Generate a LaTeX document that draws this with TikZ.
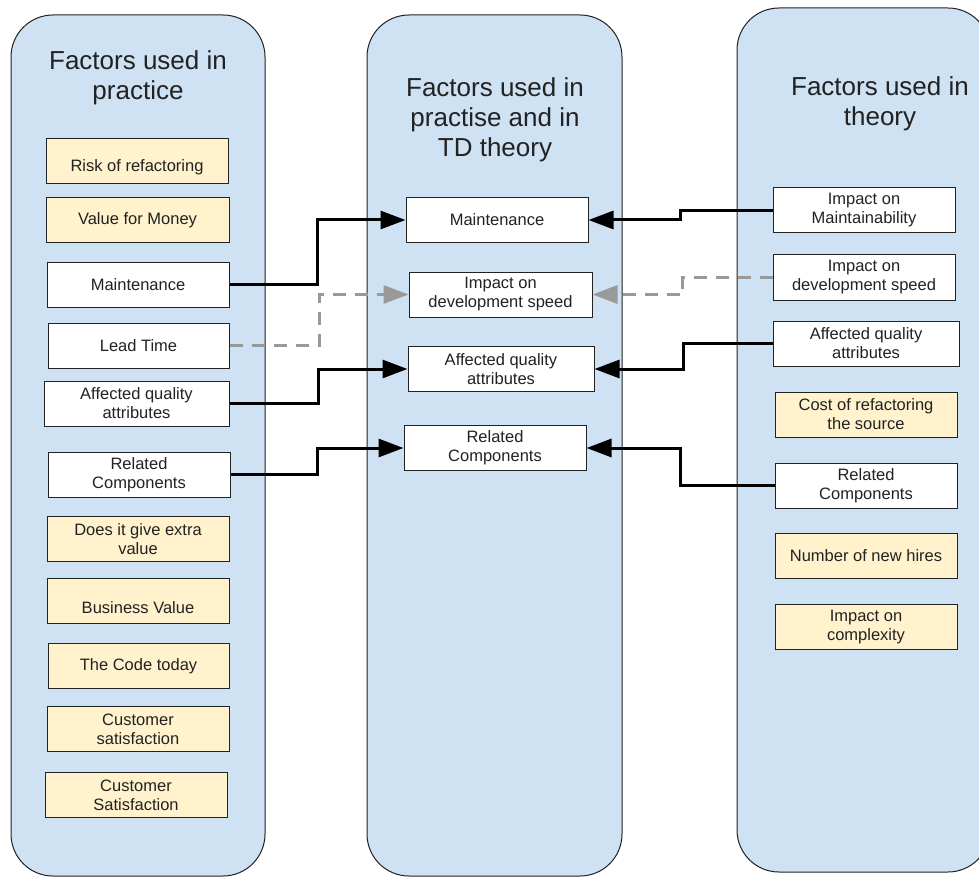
\documentclass[tikz,border=0pt]{standalone}
\usepackage{fontspec}
\setmainfont{Liberation Sans}
\usetikzlibrary{arrows.meta,calc}
\definecolor{colblue}{HTML}{CFE2F3}
\definecolor{noteyellow}{HTML}{FFF2CC}
\definecolor{linkgray}{HTML}{999999}
\definecolor{ink}{HTML}{222222}

\begin{document}
\begin{tikzpicture}[x=1pt,y=-1pt,
  column/.style={draw=ink, line width=1pt, fill=colblue, rounded corners=42pt},
  coltitle/.style={font=\fontsize{26}{30}\selectfont, align=center, text=ink},
  factor/.style={draw=ink, line width=1pt, minimum height=45pt, inner sep=0pt,
    align=center, font=\fontsize{16.5}{19}\selectfont, text=ink},
  shared/.style={factor, fill=white},
  own/.style={factor, fill=noteyellow},
  boxtext/.style={font=\fontsize{16.5}{19}\selectfont, text=ink, inner sep=0pt},
  link/.style={line width=3pt, draw=black, -{Triangle[length=25pt,width=18pt]}},
  weaklink/.style={line width=3pt, draw=linkgray, dash pattern=on 13pt off 9pt,
    -{Triangle[length=25pt,width=18pt,fill=linkgray]}},
]
\useasboundingbox (0,0) rectangle (979,877);
\clip (0,0) rectangle (979,877);

% the three columns
\draw[column] (11,15) rectangle (265,876);
\draw[column] (367,15) rectangle (622,876);
\draw[column] (737,8) rectangle (990,872);

\node[coltitle] (tPractice) at (138,78) {Factors used in\\practice};
\node[coltitle] (tBoth) at (495,120) {Factors used in\\practise and in\\TD theory};
\node[coltitle] (tTheory) at (880,104) {Factors used in\\theory};

% factors used in practice
\node[own, minimum width=182pt] (lRisk) at (137,161.5) {};
\node[boxtext] (lRiskT) at ($(lRisk.center)+(0,5.5)$) {Risk of refactoring};
\node[own, minimum width=183pt] (lValue) at (137.5,220.5) {Value for Money};
\node[shared, minimum width=182pt] (lMaint) at (138,284.5) {Maintenance};
\node[shared, minimum width=181pt] (lLead) at (138.5,345.5) {Lead Time};
\node[shared, minimum width=185pt] (lQual) at (136.5,403.5) {Affected quality\\attributes};
\node[shared, minimum width=182pt] (lRel) at (139,474.5) {Related\\Components};
\node[own, minimum width=182pt] (lExtra) at (138,539) {Does it give extra\\value};
\node[own, minimum width=182pt] (lBiz) at (138,600.5) {};
\node[boxtext] (lBizT) at ($(lBiz.center)+(0,7)$) {Business Value};
\node[own, minimum width=181pt] (lCode) at (138.5,666) {The Code today};
\node[own, minimum width=182pt] (lCust) at (138,729) {Customer\\satisfaction};
\node[own, minimum width=182pt] (lCustB) at (136,795) {Customer\\Satisfaction};

% factors used in practise and in TD theory
\node[shared, minimum width=182pt] (mMaint) at (497,220) {Maintenance};
\node[shared, minimum width=183pt] (mSpeed) at (500.5,294.5) {Impact on\\development speed};
\node[shared, minimum width=186pt] (mQual) at (501,369) {Affected quality\\attributes};
\node[shared, minimum width=182pt] (mRel) at (495,448) {Related\\Components};

% factors used in theory
\node[shared, minimum width=182pt] (rMaint) at (864,210.5) {Impact on\\Maintainability};
\node[shared, minimum width=182pt] (rSpeed) at (864,277.5) {Impact on\\development speed};
\node[shared, minimum width=186pt] (rQual) at (866,343.5) {Affected quality\\attributes};
\node[own, minimum width=182pt] (rCost) at (866,414.5) {Cost of refactoring\\the source};
\node[shared, minimum width=182pt] (rRel) at (866,485.5) {Related\\Components};
\node[own, minimum width=182pt] (rHires) at (866,556) {Number of new hires};
\node[own, minimum width=182pt] (rCompl) at (866,627) {Impact on\\complexity};

% links from practice
\draw[link] (lMaint.east) -| ($(lMaint.east)!.5!(mMaint.west)$) |- (mMaint.west);
\draw[weaklink] (lLead.east) -| ($(lLead.east)!.5!(mSpeed.west)$) |- (mSpeed.west);
\draw[link] (lQual.east) -| ($(lQual.east)!.5!(mQual.west)$) |- (mQual.west);
\draw[link] (lRel.east) -| ($(lRel.east)!.5!(mRel.west)$) |- (mRel.west);

% links from theory
\draw[link] (rMaint.west) -| ($(rMaint.west)!.5!(mMaint.east)$) |- (mMaint.east);
\draw[weaklink] (rSpeed.west) -| ($(rSpeed.west)!.5!(mSpeed.east)$) |- (mSpeed.east);
\draw[link] (rQual.west) -| ($(rQual.west)!.5!(mQual.east)$) |- (mQual.east);
\draw[link] (rRel.west) -| ($(rRel.west)!.5!(mRel.east)$) |- (mRel.east);
\end{tikzpicture}
\end{document}
